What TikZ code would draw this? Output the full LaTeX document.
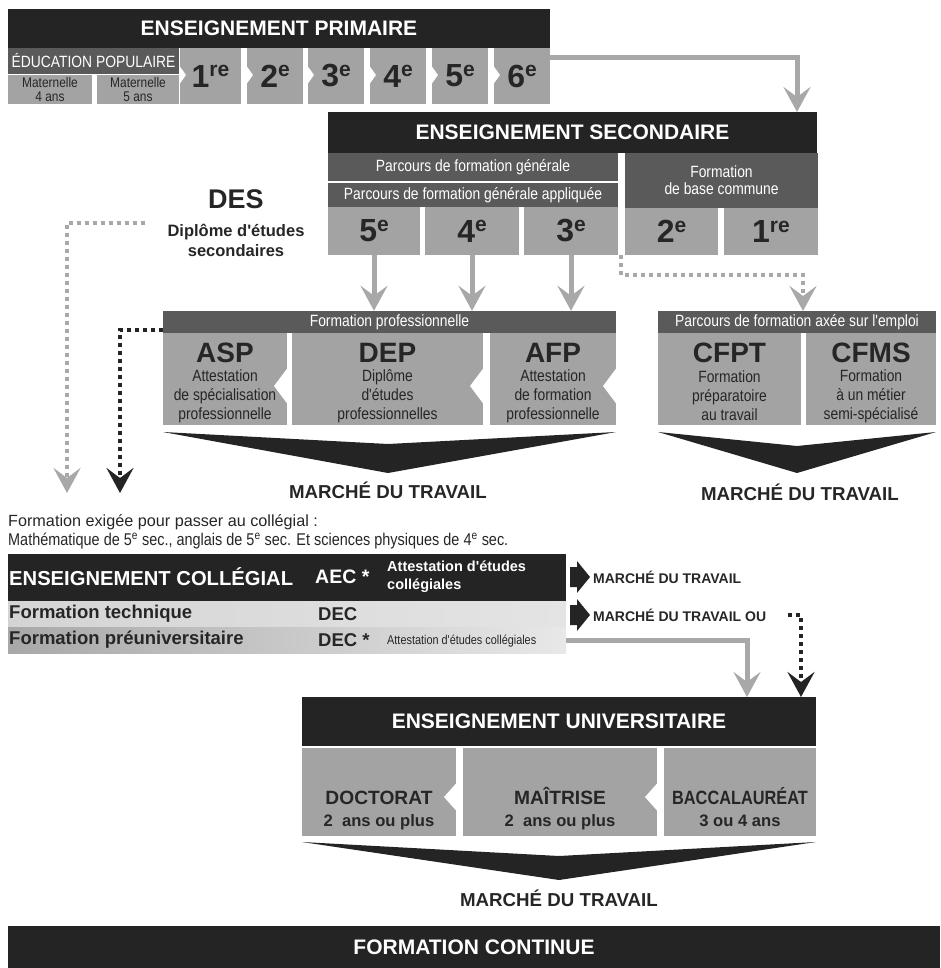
\documentclass[tikz,border=0pt]{standalone}
\usepackage{fontspec}
\setmainfont{Liberation Sans}[Ligatures=TeXOff]
\newfontfamily\narrowf{Liberation Sans}[FakeStretch=0.85,Ligatures=TeXOff]
\usetikzlibrary{arrows.meta}
\definecolor{cblk}{HTML}{242424}
\definecolor{cdark}{HTML}{5A5A5A}
\definecolor{cbox}{HTML}{A3A3A3}
\definecolor{carr}{HTML}{A8A8A8}
\definecolor{ctxt}{HTML}{262626}
\definecolor{crowa}{HTML}{D4D4D4}
\definecolor{crowb}{HTML}{E4E4E4}
\definecolor{crowc}{HTML}{A8A8A8}
\definecolor{crowd}{HTML}{E8E8E8}
\newcommand{\setfs}[2]{\fontsize{#1}{#2}\selectfont}
\newcommand{\gsup}[1]{\raisebox{10.5pt}{\setfs{21}{21}#1}}
\begin{document}
\begin{tikzpicture}[x=1pt,y=-1pt,
  blk/.style={fill=cblk,text=white,inner sep=0pt,font=\setfs{21}{24}\bfseries},
  dhead/.style={fill=cdark,text=white,inner sep=0pt,align=center,font=\narrowf\setfs{16.3}{17}},
  gbox/.style={fill=cbox,text=ctxt,inner sep=0pt},
  num/.style={font=\setfs{32}{32}\bfseries},
  desc/.style={font=\narrowf\setfs{16.3}{19},text=ctxt,align=center,inner sep=0pt},
  big/.style={font=\setfs{28}{28}\bfseries,text=ctxt,inner sep=0pt},
  garrow/.style={draw=carr,line width=5pt,-{Stealth[length=25pt,width=27pt,inset=10pt]}},
  gdots/.style={draw=carr,line width=4pt,dash pattern=on 4pt off 4pt,-{Stealth[length=25pt,width=27pt,inset=10pt]}},
  kdots/.style={draw=cblk,line width=4pt,dash pattern=on 4pt off 4pt,-{Stealth[length=25pt,width=27pt,inset=10pt]}},
  notch/.style={fill=white},
  chev/.style={fill=cblk},
  mdt/.style={font=\setfs{18.7}{20}\bfseries,text=ctxt,inner sep=0pt},
  mdtsmall/.style={font=\setfs{14}{16}\bfseries,text=ctxt,inner sep=0pt,anchor=west},
  rowtxt/.style={font=\setfs{18.5}{20}\bfseries,text=ctxt,inner sep=0pt,anchor=west},
  uhead/.style={font=\setfs{19.2}{20}\bfseries,text=ctxt,inner sep=0pt,anchor=base},
  usub/.style={font=\setfs{16.6}{20}\bfseries,text=ctxt,inner sep=0pt,anchor=base},
  matbox/.style={fill=cbox,text=ctxt,inner sep=0pt,align=center,font=\narrowf\setfs{14}{14}}
]
\useasboundingbox (0,0) rectangle (940,968);

% ---------------- PRIMAIRE
\node[blk,minimum width=542pt,minimum height=39pt] (prim) at (279,28.5) {ENSEIGNEMENT PRIMAIRE};
\node[dhead,minimum width=171pt,minimum height=26pt] (edpop) at (93.5,61) {ÉDUCATION POPULAIRE};
\node[matbox,minimum width=84pt,minimum height=29pt] (mat4) at (50,89.5) {Maternelle\\4 ans};
\node[matbox,minimum width=82pt,minimum height=29pt] (mat5) at (138,89.5) {Maternelle\\5 ans};
\node[gbox,num,minimum width=61pt,minimum height=56pt] (g1) at (210.5,76) {1\gsup{re}};
\node[gbox,num,minimum width=56pt,minimum height=56pt] (g2) at (275,76) {2\gsup{e}};
\node[gbox,num,minimum width=56pt,minimum height=56pt] (g3) at (336,76) {3\gsup{e}};
\node[gbox,num,minimum width=56pt,minimum height=56pt] (g4) at (398,76) {4\gsup{e}};
\node[gbox,num,minimum width=56pt,minimum height=56pt] (g5) at (460,76) {5\gsup{e}};
\node[gbox,num,minimum width=56pt,minimum height=56pt] (g6) at (522,76) {6\gsup{e}};
\foreach \xx in {180,247,308,370,432,494}
  \fill[notch] (\xx-0.5,66) -- (\xx+6,75) -- (\xx-0.5,84) -- cycle;

% ---------------- SECONDAIRE
\node[blk,minimum width=489pt,minimum height=41pt] (sec) at (572.5,132.5) {ENSEIGNEMENT SECONDAIRE};
\node[dhead,minimum width=290pt,minimum height=28pt] (pfg) at (473,167) {Parcours de formation générale};
\node[dhead,minimum width=290pt,minimum height=24pt] (pfga) at (473,195) {Parcours de formation générale appliquée};
\node[gbox,num,minimum width=92pt,minimum height=48pt] (s5) at (374,231) {5\gsup{e}};
\node[gbox,num,minimum width=94pt,minimum height=48pt] (s4) at (472,231) {4\gsup{e}};
\node[gbox,num,minimum width=94pt,minimum height=48pt] (s3) at (571,231) {3\gsup{e}};
\node[dhead,minimum width=193pt,minimum height=55pt] (fbc) at (721.5,180.5) {Formation\\de base commune};
\node[gbox,num,minimum width=93pt,minimum height=47pt] (s2) at (671.5,231.5) {2\gsup{e}};
\node[gbox,num,minimum width=94pt,minimum height=47pt] (s1) at (771,231.5) {1\gsup{re}};

% DES
\node[font=\setfs{27}{28}\bfseries,text=ctxt,inner sep=0pt] (des) at (236,199) {DES};
\node[font=\setfs{16.5}{20}\bfseries,text=ctxt,inner sep=0pt,align=center] (desl) at (236,240) {Diplôme d'études\\secondaires};

% ---------------- FORMATION PROFESSIONNELLE
\node[dhead,minimum width=453pt,minimum height=22pt] (fp) at (389.5,322) {Formation professionnelle};
\node[gbox,minimum width=124pt,minimum height=92pt] (asp) at (225,379) {};
\node[gbox,minimum width=191pt,minimum height=92pt] (dep) at (387.5,379) {};
\node[gbox,minimum width=126pt,minimum height=92pt] (afp) at (553,379) {};
\foreach \xx in {287,483,616}
  \fill[notch] (\xx+0.5,368) -- (\xx-13,386) -- (\xx+0.5,404) -- cycle;
\node[big] (aspt) at (225,353) {ASP};
\node[desc] (aspd) at (225,396) {Attestation\\de spécialisation\\professionnelle};
\node[big] (dept) at (387.5,353) {DEP};
\node[desc] (depd) at (387.5,396) {Diplôme\\d'études\\professionnelles};
\node[big] (afpt) at (553,353) {AFP};
\node[desc] (afpd) at (553,396) {Attestation\\de formation\\professionnelle};
\fill[chev] (163,432) -- (388,444) -- (616,432) -- (388,473) -- cycle;
\node[mdt] (mdt1) at (388,490) {MARCHÉ DU TRAVAIL};

% ---------------- PARCOURS AXÉE SUR L'EMPLOI
\node[dhead,minimum width=278pt,minimum height=22pt] (pae) at (797,322) {Parcours de formation axée sur l'emploi};
\node[gbox,minimum width=143pt,minimum height=92pt] (cfpt) at (729.5,379) {};
\node[gbox,minimum width=130pt,minimum height=92pt] (cfms) at (871,379) {};
\node[big] (cfptt) at (729.5,353) {CFPT};
\node[desc] (cfptd) at (729.5,396) {Formation\\préparatoire\\au travail};
\node[big] (cfmst) at (871,353) {CFMS};
\node[desc] (cfmsd) at (871,396) {Formation\\à un métier\\semi-spécialisé};
\fill[chev] (658,432) -- (797,446) -- (936,432) -- (797,473) -- cycle;
\node[mdt] (mdt2) at (800,492) {MARCHÉ DU TRAVAIL};

% ---------------- ARROWS (primary/secondary)
\coordinate (p6) at (550,58);
\coordinate (secin) at (797,112);
\draw[garrow] (g6.east |- p6) -| (secin);
\draw[garrow] (s5.south) -- (s5.south |- fp.north);
\draw[garrow] (s4.south) -- (s4.south |- fp.north);
\draw[garrow] (s3.south) -- (s3.south |- fp.north);
\coordinate (gapd) at (621,255);
\coordinate (paein) at (803,311);
\draw[gdots] (gapd) -- (621,275) -| (paein);
\coordinate (desd) at (145,223);
\coordinate (desend) at (67,493);
\draw[gdots] (desd) -| (desend);
\coordinate (fpd) at (163,330);
\coordinate (fpend) at (120,493);
\draw[kdots] (fpd) -| (fpend);

% ---------------- COLLÉGIAL
\node[anchor=west,inner sep=0pt,font=\setfs{16.2}{18},text=ctxt] (req1) at (8,522) {Formation exigée pour passer au collégial :};
\node[anchor=west,inner sep=0pt,font=\narrowf\setfs{17}{18},text=ctxt] (req2) at (8,541) {Mathématique de 5\textsuperscript{e} sec., anglais de 5\textsuperscript{e} sec. Et sciences physiques de 4\textsuperscript{e} sec.};
\node[fill=cblk,minimum width=558pt,minimum height=47pt,inner sep=0pt] (col) at (287,577.5) {};
\node[left color=crowa,right color=crowb,minimum width=558pt,minimum height=26pt,inner sep=0pt] (row2) at (287,614) {};
\node[left color=crowc,right color=crowd,minimum width=558pt,minimum height=26pt,inner sep=0pt] (row3) at (287,640) {};
\node[anchor=west,inner sep=0pt,font=\setfs{20.2}{22}\bfseries,text=white] (colt) at (9,577) {ENSEIGNEMENT COLLÉGIAL};
\node[anchor=west,inner sep=0pt,font=\setfs{19.5}{22}\bfseries,text=white] (aec) at (315,577) {AEC *};
\node[anchor=west,inner sep=0pt,font=\setfs{14.5}{18}\bfseries,text=white,align=left] (aecd) at (387,577) {Attestation d'études\\collégiales};
\node[rowtxt] (ft) at (9,614) {Formation technique};
\node[rowtxt] (dec1) at (318,614) {DEC};
\node[rowtxt] (fpu) at (9,640) {Formation préuniversitaire};
\node[rowtxt] (dec2) at (318,640) {DEC *};
\node[anchor=west,inner sep=0pt,font=\narrowf\setfs{12.8}{14},text=ctxt] (aecs) at (387,641) {Attestation d'études collégiales};
\fill[cblk] (570,567) -- (577,567) -- (577,561) -- (590,577) -- (577,593) -- (577,587) -- (570,587) -- cycle;
\fill[cblk] (570,605) -- (577,605) -- (577,599) -- (590,615) -- (577,631) -- (577,625) -- (570,625) -- cycle;
\node[mdtsmall] (m1) at (593,577) {MARCHÉ DU TRAVAIL};
\node[mdtsmall] (m2) at (593,615) {MARCHÉ DU TRAVAIL OU};

% ---------------- UNIVERSITAIRE
\node[blk,minimum width=514pt,minimum height=49pt] (univ) at (559,721.5) {ENSEIGNEMENT UNIVERSITAIRE};
\coordinate (uin1) at (747,697);
\coordinate (uin2) at (801,697);
\coordinate (oud) at (788,615);
\draw[garrow] (row3.east) -| (uin1);
\draw[kdots] (oud) -| (uin2);
\node[gbox,minimum width=154pt,minimum height=88pt] (doc) at (379,792) {};
\node[gbox,minimum width=194pt,minimum height=88pt] (mai) at (560,792) {};
\node[gbox,minimum width=152pt,minimum height=88pt] (bac) at (740,792) {};
\foreach \xx in {456,657}
  \fill[notch] (\xx+0.5,783) -- (\xx-12,797) -- (\xx+0.5,811) -- cycle;
\node[uhead] (doct) at (379,804) {DOCTORAT};
\node[usub] (docs) at (379,826) {2~ ans ou plus};
\node[uhead] (mait) at (560,804) {MAÎTRISE};
\node[usub] (mais) at (560,826) {2~ ans ou plus};
\node[uhead,font=\narrowf\setfs{19.2}{20}\bfseries] (bact) at (740,804) {BACCALAURÉAT};
\node[usub] (bacs) at (740,826) {3 ou 4 ans};
\fill[chev] (302,842) -- (559,856) -- (816,842) -- (559,880) -- cycle;
\node[mdt] (mdt3) at (559,898) {MARCHÉ DU TRAVAIL};

% ---------------- FORMATION CONTINUE
\node[blk,minimum width=932pt,minimum height=42pt] (fc) at (474,947) {FORMATION CONTINUE};
\end{tikzpicture}
\end{document}
